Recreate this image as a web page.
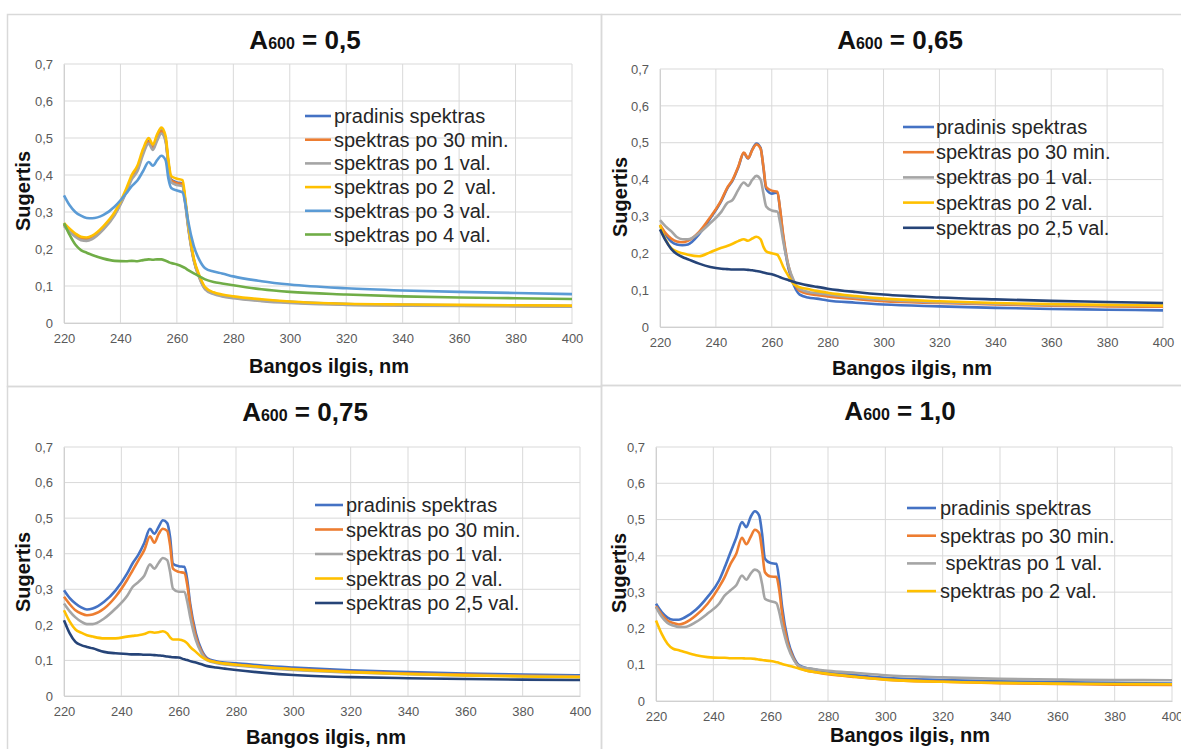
<!DOCTYPE html>
<html>
<head>
<meta charset="utf-8">
<script src="https://cdn.jsdelivr.net/npm/d3@7"></script>
<style>
  body { margin: 0; background: #fff; }
  svg { display: block; font-family: 'Liberation Sans', Arial, sans-serif; }
</style>
</head>
<body>
<div id="chart"></div>
<script>
// wavelength grid shared by every curve (nm)
const wavelengths = [220, 222, 224, 226, 228, 230, 234, 238, 242, 244, 246, 248, 250, 251.5, 253, 254.5, 256, 257, 258, 260, 262, 263, 264, 266, 268, 270, 273, 276, 280, 290, 300, 320, 340, 360, 380, 400]

const xTicks = [220, 240, 260, 280, 300, 320, 340, 360, 380, 400]
const yTicks = [0, 0.1, 0.2, 0.3, 0.4, 0.5, 0.6, 0.7]

// A600 = 0,5
const p1Pradinis = [0.265, 0.25, 0.236, 0.228, 0.226, 0.231, 0.257, 0.296, 0.356, 0.393, 0.417, 0.462, 0.492, 0.474, 0.5, 0.52, 0.497, 0.432, 0.387, 0.38, 0.377, 0.327, 0.263, 0.171, 0.124, 0.094, 0.081, 0.075, 0.07, 0.062, 0.057, 0.051, 0.049, 0.048, 0.047, 0.046]
const p1Min30 = [0.265, 0.25, 0.236, 0.227, 0.225, 0.23, 0.256, 0.295, 0.355, 0.392, 0.415, 0.46, 0.49, 0.472, 0.498, 0.518, 0.495, 0.43, 0.385, 0.378, 0.375, 0.325, 0.262, 0.17, 0.123, 0.093, 0.08, 0.074, 0.069, 0.061, 0.056, 0.05, 0.048, 0.047, 0.046, 0.045]
const p1Val1 = [0.262, 0.247, 0.233, 0.224, 0.222, 0.227, 0.253, 0.292, 0.352, 0.388, 0.41, 0.455, 0.485, 0.468, 0.493, 0.512, 0.49, 0.425, 0.38, 0.373, 0.37, 0.32, 0.258, 0.168, 0.121, 0.091, 0.078, 0.072, 0.067, 0.059, 0.054, 0.049, 0.047, 0.046, 0.045, 0.044]
const p1Val2 = [0.27, 0.255, 0.242, 0.233, 0.231, 0.236, 0.262, 0.3, 0.362, 0.4, 0.425, 0.47, 0.5, 0.482, 0.51, 0.528, 0.505, 0.44, 0.397, 0.39, 0.386, 0.335, 0.27, 0.175, 0.128, 0.097, 0.083, 0.077, 0.072, 0.064, 0.058, 0.052, 0.05, 0.049, 0.048, 0.047]
const p1Val3 = [0.345, 0.318, 0.3, 0.29, 0.284, 0.283, 0.292, 0.315, 0.35, 0.37, 0.385, 0.41, 0.435, 0.425, 0.44, 0.452, 0.44, 0.39, 0.365, 0.358, 0.353, 0.322, 0.275, 0.208, 0.17, 0.148, 0.139, 0.134, 0.126, 0.113, 0.104, 0.094, 0.088, 0.084, 0.081, 0.078]
const p1Val4 = [0.27, 0.238, 0.212, 0.197, 0.19, 0.184, 0.174, 0.168, 0.167, 0.168, 0.167, 0.17, 0.172, 0.171, 0.172, 0.172, 0.168, 0.165, 0.162, 0.158, 0.152, 0.148, 0.143, 0.134, 0.126, 0.118, 0.111, 0.107, 0.102, 0.091, 0.084, 0.077, 0.072, 0.069, 0.067, 0.065]

// A600 = 0,65
const p2Pradinis = [0.275, 0.25, 0.232, 0.224, 0.222, 0.224, 0.252, 0.295, 0.343, 0.375, 0.398, 0.433, 0.472, 0.457, 0.481, 0.498, 0.486, 0.433, 0.375, 0.362, 0.365, 0.316, 0.25, 0.158, 0.112, 0.088, 0.08, 0.077, 0.072, 0.066, 0.061, 0.056, 0.052, 0.049, 0.047, 0.045]
const p2Min30 = [0.277, 0.255, 0.24, 0.232, 0.23, 0.234, 0.258, 0.298, 0.345, 0.377, 0.4, 0.435, 0.473, 0.458, 0.48, 0.495, 0.484, 0.435, 0.38, 0.37, 0.367, 0.318, 0.255, 0.165, 0.12, 0.098, 0.09, 0.087, 0.083, 0.076, 0.07, 0.065, 0.061, 0.058, 0.056, 0.055]
const p2Val1 = [0.29, 0.273, 0.26, 0.244, 0.238, 0.238, 0.255, 0.282, 0.313, 0.336, 0.345, 0.372, 0.392, 0.383, 0.399, 0.41, 0.4, 0.363, 0.327, 0.316, 0.313, 0.282, 0.237, 0.165, 0.124, 0.103, 0.095, 0.092, 0.088, 0.08, 0.074, 0.067, 0.063, 0.06, 0.059, 0.058]
const p2Val2 = [0.277, 0.237, 0.214, 0.205, 0.2, 0.196, 0.192, 0.203, 0.215, 0.22, 0.226, 0.233, 0.238, 0.234, 0.24, 0.245, 0.238, 0.218, 0.205, 0.2, 0.196, 0.183, 0.165, 0.138, 0.115, 0.108, 0.103, 0.098, 0.093, 0.084, 0.077, 0.07, 0.065, 0.062, 0.06, 0.058]
const p2Val25 = [0.265, 0.235, 0.212, 0.198, 0.19, 0.184, 0.172, 0.163, 0.158, 0.157, 0.156, 0.156, 0.156, 0.155, 0.154, 0.152, 0.15, 0.148, 0.146, 0.143, 0.138, 0.135, 0.132, 0.127, 0.122, 0.118, 0.113, 0.109, 0.104, 0.095, 0.088, 0.08, 0.075, 0.071, 0.068, 0.065]

// A600 = 0,75
const p3Pradinis = [0.297, 0.275, 0.26, 0.249, 0.243, 0.246, 0.265, 0.297, 0.344, 0.374, 0.398, 0.43, 0.47, 0.456, 0.475, 0.494, 0.486, 0.447, 0.372, 0.365, 0.363, 0.326, 0.26, 0.176, 0.129, 0.106, 0.098, 0.094, 0.092, 0.085, 0.08, 0.072, 0.067, 0.063, 0.06, 0.058]
const p3Min30 = [0.279, 0.258, 0.241, 0.232, 0.227, 0.229, 0.246, 0.279, 0.326, 0.354, 0.382, 0.41, 0.449, 0.431, 0.455, 0.47, 0.464, 0.424, 0.358, 0.349, 0.346, 0.312, 0.251, 0.167, 0.124, 0.103, 0.095, 0.091, 0.088, 0.081, 0.076, 0.068, 0.063, 0.06, 0.057, 0.055]
const p3Val1 = [0.26, 0.238, 0.221, 0.209, 0.202, 0.202, 0.218, 0.246, 0.281, 0.307, 0.321, 0.338, 0.37, 0.358, 0.374, 0.388, 0.382, 0.349, 0.302, 0.293, 0.293, 0.265, 0.223, 0.157, 0.12, 0.1, 0.093, 0.089, 0.086, 0.079, 0.073, 0.066, 0.061, 0.058, 0.056, 0.054]
const p3Val2 = [0.241, 0.209, 0.187, 0.178, 0.171, 0.167, 0.162, 0.162, 0.167, 0.169, 0.171, 0.174, 0.18, 0.178, 0.179, 0.182, 0.176, 0.165, 0.159, 0.159, 0.154, 0.148, 0.138, 0.124, 0.11, 0.101, 0.095, 0.091, 0.088, 0.081, 0.075, 0.067, 0.062, 0.058, 0.055, 0.053]
const p3Val25 = [0.213, 0.176, 0.152, 0.143, 0.138, 0.134, 0.124, 0.12, 0.118, 0.117, 0.117, 0.116, 0.116, 0.115, 0.114, 0.113, 0.111, 0.11, 0.109, 0.108, 0.103, 0.101, 0.098, 0.094, 0.089, 0.084, 0.08, 0.077, 0.073, 0.065, 0.059, 0.053, 0.05, 0.048, 0.046, 0.045]

// A600 = 1,0
const p4Pradinis = [0.268, 0.245, 0.23, 0.224, 0.224, 0.23, 0.252, 0.287, 0.332, 0.369, 0.41, 0.45, 0.493, 0.479, 0.507, 0.523, 0.511, 0.461, 0.392, 0.38, 0.378, 0.332, 0.259, 0.167, 0.121, 0.098, 0.09, 0.086, 0.08, 0.071, 0.064, 0.058, 0.054, 0.052, 0.05, 0.048]
const p4Min30 = [0.261, 0.238, 0.222, 0.215, 0.211, 0.215, 0.236, 0.268, 0.314, 0.342, 0.378, 0.406, 0.45, 0.432, 0.452, 0.472, 0.463, 0.415, 0.355, 0.343, 0.342, 0.305, 0.241, 0.158, 0.117, 0.093, 0.083, 0.079, 0.074, 0.066, 0.059, 0.053, 0.049, 0.047, 0.045, 0.044]
const p4Val1 = [0.259, 0.232, 0.215, 0.208, 0.204, 0.204, 0.218, 0.241, 0.268, 0.291, 0.305, 0.319, 0.346, 0.334, 0.351, 0.362, 0.355, 0.323, 0.282, 0.275, 0.27, 0.245, 0.208, 0.149, 0.114, 0.096, 0.09, 0.087, 0.083, 0.077, 0.071, 0.065, 0.061, 0.059, 0.058, 0.057]
const p4Val2 = [0.222, 0.185, 0.158, 0.144, 0.14, 0.135, 0.126, 0.121, 0.119, 0.119, 0.118, 0.118, 0.118, 0.117, 0.117, 0.116, 0.114, 0.113, 0.112, 0.11, 0.107, 0.105, 0.102, 0.098, 0.094, 0.089, 0.083, 0.079, 0.075, 0.066, 0.059, 0.053, 0.05, 0.048, 0.047, 0.046]

const colors = {
  pradinis: '#4472C4',
  min30: '#ED7D31',
  val1: '#A5A5A5',
  val2: '#FFC000',
  val3: '#5B9BD5',
  val4: '#70AD47',
  val25: '#264478'
}

// layout of the four charts (pixels)
const panels = [
  {
    value: '0,5',
    box: [7, 14, 594, 372],
    plot: { left: 64, right: 572, top: 64, bottom: 323 },
    titleX: 305, titleY: 49,
    xLabel: [329, 373], yLabel: [30, 191],
    legend: { x0: 305, x1: 331, tx: 334, y: 116, dy: 23.7 },
    series: [
      { name: 'pradinis spektras', values: p1Pradinis, color: colors.pradinis },
      { name: 'spektras po 30 min.', values: p1Min30, color: colors.min30 },
      { name: 'spektras po 1 val.', values: p1Val1, color: colors.val1 },
      { name: 'spektras po 2  val.', values: p1Val2, color: colors.val2 },
      { name: 'spektras po 3 val.', values: p1Val3, color: colors.val3 },
      { name: 'spektras po 4 val.', values: p1Val4, color: colors.val4 }
    ]
  },
  {
    value: '0,65',
    box: [601, 14, 590, 371],
    plot: { left: 660, right: 1163, top: 69, bottom: 327 },
    titleX: 900, titleY: 49,
    xLabel: [912, 375], yLabel: [627, 197],
    legend: { x0: 903, x1: 934, tx: 936, y: 127, dy: 25.2 },
    series: [
      { name: 'pradinis spektras', values: p2Pradinis, color: colors.pradinis },
      { name: 'spektras po 30 min.', values: p2Min30, color: colors.min30 },
      { name: 'spektras po 1 val.', values: p2Val1, color: colors.val1 },
      { name: 'spektras po 2 val.', values: p2Val2, color: colors.val2 },
      { name: 'spektras po 2,5 val.', values: p2Val25, color: colors.val25 }
    ]
  },
  {
    value: '0,75',
    box: [7, 386, 594, 380],
    plot: { left: 64, right: 580, top: 447, bottom: 696 },
    titleX: 305, titleY: 421,
    xLabel: [326, 744], yLabel: [30, 572],
    legend: { x0: 315, x1: 343, tx: 346, y: 505, dy: 24.5 },
    series: [
      { name: 'pradinis spektras', values: p3Pradinis, color: colors.pradinis },
      { name: 'spektras po 30 min.', values: p3Min30, color: colors.min30 },
      { name: 'spektras po 1 val.', values: p3Val1, color: colors.val1 },
      { name: 'spektras po 2 val.', values: p3Val2, color: colors.val2 },
      { name: 'spektras po 2,5 val.', values: p3Val25, color: colors.val25 }
    ]
  },
  {
    value: '1,0',
    box: [601, 385, 590, 380],
    plot: { left: 656, right: 1172, top: 447, bottom: 701 },
    titleX: 900, titleY: 420,
    xLabel: [910, 742], yLabel: [626, 573],
    legend: { x0: 907, x1: 936, tx: 940, y: 508, dy: 27.7 },
    series: [
      { name: 'pradinis spektras', values: p4Pradinis, color: colors.pradinis },
      { name: 'spektras po 30 min.', values: p4Min30, color: colors.min30 },
      { name: ' spektras po 1 val.', values: p4Val1, color: colors.val1 },
      { name: 'spektras po 2 val.', values: p4Val2, color: colors.val2 }
    ]
  }
]

const width = 1181
const height = 749

const svg = d3
  .select('#chart')
  .append('svg')
  .attr('width', width)
  .attr('height', height)

svg
  .append('rect')
  .attr('width', width)
  .attr('height', height)
  .attr('fill', '#fff')

const commaFormat = d => (d === 0 ? '0' : d3.format('.1f')(d).replace('.', ','))

panels.forEach(p => {
  const g = svg.append('g')

  // chart frame
  g.append('rect')
    .attr('x', p.box[0] + 0.5)
    .attr('y', p.box[1] + 0.5)
    .attr('width', p.box[2])
    .attr('height', p.box[3])
    .attr('fill', 'none')
    .attr('stroke', '#d9d9d9')
    .attr('stroke-width', 1.5)

  const xScale = d3
    .scaleLinear()
    .domain([220, 400])
    .range([p.plot.left, p.plot.right])

  const yScale = d3
    .scaleLinear()
    .domain([0, 0.7])
    .range([p.plot.bottom, p.plot.top])

  // gridlines
  g.selectAll('.vgrid')
    .data(xTicks)
    .enter()
    .append('line')
    .attr('x1', d => xScale(d))
    .attr('x2', d => xScale(d))
    .attr('y1', p.plot.top)
    .attr('y2', p.plot.bottom)
    .attr('stroke', '#d9d9d9')
    .attr('stroke-width', 1)

  g.selectAll('.hgrid')
    .data(yTicks)
    .enter()
    .append('line')
    .attr('x1', p.plot.left)
    .attr('x2', p.plot.right)
    .attr('y1', d => yScale(d))
    .attr('y2', d => yScale(d))
    .attr('stroke', '#d9d9d9')
    .attr('stroke-width', 1)

  // axes
  const yAxis = g
    .append('g')
    .attr('transform', 'translate(' + p.plot.left + ',0)')
    .call(
      d3
        .axisLeft(yScale)
        .tickValues(yTicks)
        .tickSize(0)
        .tickPadding(11)
        .tickFormat(commaFormat)
    )
  yAxis.select('.domain').attr('stroke', '#d0d0d0')

  const xAxis = g
    .append('g')
    .attr('transform', 'translate(0,' + p.plot.bottom + ')')
    .call(
      d3
        .axisBottom(xScale)
        .tickValues(xTicks)
        .tickSize(0)
        .tickPadding(11)
    )
  xAxis.select('.domain').attr('stroke', '#d0d0d0')

  g.selectAll('.tick text')
    .attr('font-family', "'Liberation Sans', Arial, sans-serif")
    .attr('font-size', 13)
    .attr('fill', '#595959')

  // curves
  const line = d3
    .line()
    .x((d, i) => xScale(wavelengths[i]))
    .y(d => yScale(d))
    .curve(d3.curveMonotoneX)

  g.selectAll('.curve')
    .data(p.series)
    .enter()
    .append('path')
    .attr('class', 'curve')
    .attr('d', d => line(d.values))
    .attr('fill', 'none')
    .attr('stroke', d => d.color)
    .attr('stroke-width', 2.6)
    .attr('stroke-linejoin', 'round')

  // title
  const title = g
    .append('text')
    .attr('x', p.titleX)
    .attr('y', p.titleY)
    .attr('text-anchor', 'middle')
    .attr('font-weight', 700)
    .attr('fill', '#111')
  title.append('tspan').attr('font-size', 26).text('A')
  title.append('tspan').attr('font-size', 16).text('600')
  title.append('tspan').attr('font-size', 26).text(' = ' + p.value)

  // axis titles
  g.append('text')
    .attr('x', p.xLabel[0])
    .attr('y', p.xLabel[1])
    .attr('text-anchor', 'middle')
    .attr('font-size', 20)
    .attr('font-weight', 700)
    .attr('fill', '#111')
    .text('Bangos ilgis, nm')

  g.append('text')
    .attr('transform', 'translate(' + p.yLabel[0] + ',' + p.yLabel[1] + ') rotate(-90)')
    .attr('text-anchor', 'middle')
    .attr('font-size', 20)
    .attr('font-weight', 700)
    .attr('fill', '#111')
    .text('Sugertis')

  // legend
  const legend = g
    .selectAll('.legend-item')
    .data(p.series)
    .enter()
    .append('g')
    .attr('class', 'legend-item')
    .attr('transform', (d, i) => 'translate(0,' + (p.legend.y + i * p.legend.dy) + ')')

  legend
    .append('line')
    .attr('x1', p.legend.x0)
    .attr('x2', p.legend.x1)
    .attr('stroke', d => d.color)
    .attr('stroke-width', 2.6)

  legend
    .append('text')
    .attr('x', p.legend.tx)
    .attr('y', 7)
    .attr('font-size', 20)
    .attr('fill', '#262626')
    .style('white-space', 'pre')
    .text(d => d.name)
})
</script>
</body>
</html>
